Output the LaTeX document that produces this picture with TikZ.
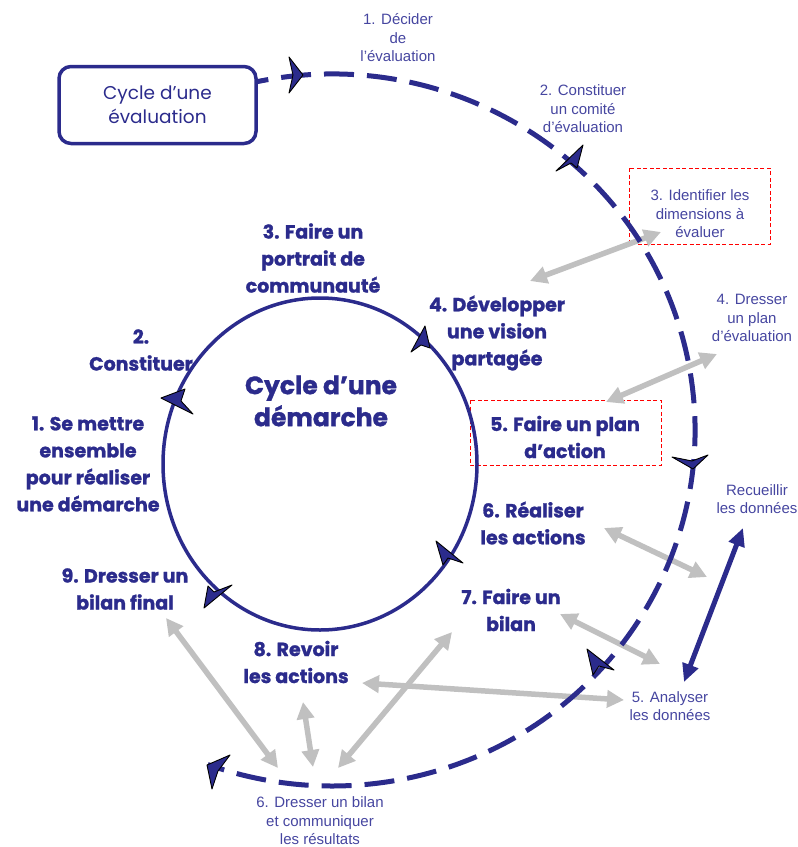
\documentclass[tikz,border=0pt]{standalone}
\usepackage{fontspec}
\setmainfont{Liberation Sans}
\newfontfamily\hand{Poppins}[BoldFeatures={FakeBold=1.3}]
\usetikzlibrary{arrows.meta}
\definecolor{navy}{RGB}{43,43,140}
\definecolor{smallblue}{RGB}{70,70,160}
\definecolor{greyarrow}{RGB}{192,192,192}
\begin{document}
\begin{tikzpicture}[x=1pt,y=1pt,
  boldtxt/.style={font=\hand\bfseries\fontsize{19}{27}\selectfont, text=navy, align=center, inner sep=0pt},
  smalltxt/.style={font=\fontsize{15}{18.5}\selectfont, text=smallblue, align=center, inner sep=0pt},
  garrow/.style={draw=greyarrow, line width=5.5pt, {Triangle[length=17pt,width=17pt]}-{Triangle[length=17pt,width=17pt]}},
  narrow/.style={draw=navy, line width=5pt, {Triangle[length=18pt,width=16pt]}-{Triangle[length=18pt,width=16pt]}},
  headmark/.style={fill=navy, draw=black, line width=0.9pt, line join=round},
  redbox/.style={draw=red, dash pattern=on 4pt off 2.5pt, line width=1pt}]
\useasboundingbox (0,0) rectangle (798,-847);

% ---- texts (bold, demarche cycle)
\node[boldtxt] (b3) at (313,-258) {3. Faire un\\portrait de\\communauté};
\node[boldtxt] (b4) at (497,-333) {4. Développer\\une vision\\partagée};
\node[boldtxt] (b2) at (141,-350) {2.\\Constituer};
\node[boldtxt] (b1) at (88,-464) {1. Se mettre\\ensemble\\pour réaliser\\une démarche};
\node[boldtxt, font=\hand\bfseries\fontsize{25}{32}\selectfont] (title) at (321,-401) {Cycle d’une\\démarche};
\node[boldtxt] (b5) at (565,-437) {5. Faire un plan\\d’action};
\node[boldtxt] (b6) at (533,-523) {6. Réaliser\\les actions};
\node[boldtxt] (b7) at (511,-610) {7. Faire un\\bilan};
\node[boldtxt] (b8) at (296,-662) {8. Revoir\\les actions};
\node[boldtxt] (b9) at (125,-589) {9. Dresser un\\bilan final};

% ---- texts (small, evaluation cycle)
\node[smalltxt] (s1) at (398,-38) {1. Décider\\de\\l’évaluation};
\node[smalltxt] (s2) at (583,-109) {2. Constituer\\un comité\\d’évaluation};
\node[smalltxt] (s3) at (700,-214) {3. Identifier les\\dimensions à\\évaluer};
\node[smalltxt] (s4) at (752,-318) {4. Dresser\\un plan\\d’évaluation};
\node[smalltxt] (sr) at (757,-499) {Recueillir\\les données};
\node[smalltxt] (s5) at (670,-706) {5. Analyser\\les données};
\node[smalltxt] (s6) at (320,-821) {6. Dresser un bilan\\et communiquer\\les résultats};

% ---- red dashed frames
\draw[redbox] (629,-168) rectangle (770,-244);
\draw[redbox] (470,-400) rectangle (661,-465);

% ---- title box
\node[draw=navy, line width=3.5pt, rounded corners=12pt, minimum width=197pt, minimum height=77pt,
      font=\hand\fontsize{18.5}{24}\selectfont, text=navy, align=center, inner sep=0pt] (evalbox) at (157.5,-105) {Cycle d’une\\évaluation};

% ---- grey double arrows
\coordinate (g1a) at (530,-281); \coordinate (g1b) at (661,-232);
\coordinate (g2a) at (606,-402); \coordinate (g2b) at (717,-354);
\coordinate (g3a) at (604,-528); \coordinate (g3b) at (707,-577);
\coordinate (g4a) at (560,-614); \coordinate (g4b) at (660,-664);
\coordinate (g6a) at (362,-683); \coordinate (g6b) at (624,-700);
\coordinate (g7a) at (166,-618); \coordinate (g7b) at (278,-768);
\coordinate (g8a) at (303,-702); \coordinate (g8b) at (313,-767);
\coordinate (g9a) at (452,-632); \coordinate (g9b) at (338,-768);
\draw[garrow] (g1a) -- (g1b);
\draw[garrow] (g2a) -- (g2b);
\draw[garrow] (g3a) -- (g3b);
\draw[garrow] (g4a) -- (g4b);
\draw[garrow] (g6a) -- (g6b);
\draw[garrow] (g7a) -- (g7b);
\draw[garrow] (g8a) -- (g8b);
\draw[garrow] (g9a) -- (g9b);

% ---- navy double arrow
\coordinate (na) at (743,-528); \coordinate (nb) at (684,-682);
\draw[narrow] (na) -- (nb);

% ---- inner cycle
\draw[navy, line width=3.5pt] (320,-464) ellipse[x radius=157, y radius=166];

% ---- outer dashed cycle
\coordinate (oc) at (332,-430);
\draw[navy, line width=5pt, dash pattern=on 30pt off 13pt, dash phase=18pt]
  (oc) ++(102:363 and 356) arc[start angle=102, end angle=-110, x radius=363, y radius=356];

% ---- arrow heads on the cycles
\filldraw[headmark] (161,-398) -- (185,-389) -- (181,-401) -- (193,-414) -- cycle;
\filldraw[headmark] (425,-326) -- (411,-352) -- (421,-345) -- (430,-348) -- cycle;
\filldraw[headmark] (436,-541) -- (443,-565) -- (448,-558) -- (463,-563) -- cycle;
\filldraw[headmark] (204,-608) -- (208,-586) -- (214,-592) -- (232,-585) -- cycle;
\filldraw[headmark] (303,-75) -- (289,-57) -- (293,-75) -- (289,-93) -- cycle;
\filldraw[headmark] (583,-145) -- (556,-171) -- (571,-163) -- (577,-168) -- cycle;
\filldraw[headmark] (693,-469) -- (672,-457) -- (692,-461) -- (708,-455) -- cycle;
\filldraw[headmark] (587,-649) -- (593,-675) -- (599,-666) -- (614,-670) -- cycle;
\filldraw[headmark] (230,-755) -- (207,-765) -- (212,-789) -- (218,-771) -- cycle;
\end{tikzpicture}
\end{document}
